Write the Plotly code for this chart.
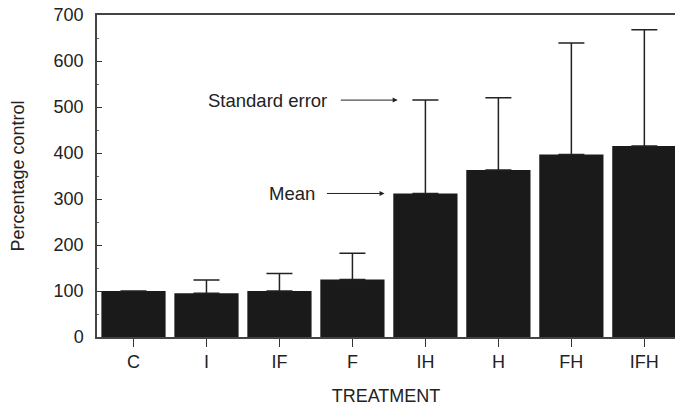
import plotly.graph_objects as go

categories = ["C", "I", "IF", "F", "IH", "H", "FH", "IFH"]
means = [100, 95, 100, 125, 312, 363, 397, 415]
se_plus = [0, 29, 38, 57, 203, 157, 242, 253]
y_ticks = [0, 100, 200, 300, 400, 500, 600, 700]

FONT = "Liberation Sans, Arial, Helvetica, sans-serif"

fig = go.Figure()
fig.add_trace(go.Bar(
    x=list(range(len(categories))),
    y=means,
    width=0.88,
    marker=dict(color="#1a1a1a", line=dict(width=0)),
    error_y=dict(type="data", array=se_plus, arrayminus=[0] * len(se_plus),
                 symmetric=False, color="#222222", thickness=1.5, width=13),
    showlegend=False,
))

# annotations (arrows + labels)
fig.add_annotation(x=3.62, y=515, ax=2.82, ay=515, axref="x", ayref="y",
                   xref="x", yref="y", text="", showarrow=True,
                   arrowhead=2, arrowsize=1, arrowwidth=1, arrowcolor="#222")
fig.add_annotation(x=3.44, y=312, ax=2.63, ay=312, axref="x", ayref="y",
                   xref="x", yref="y", text="", showarrow=True,
                   arrowhead=2, arrowsize=1, arrowwidth=1, arrowcolor="#222")
fig.add_annotation(x=2.68, y=515, xref="x", yref="y", text="Standard error",
                   showarrow=False, xanchor="right", yanchor="middle",
                   font=dict(size=18.5, color="#222", family=FONT))
fig.add_annotation(x=2.52, y=312, xref="x", yref="y", text="Mean",
                   showarrow=False, xanchor="right", yanchor="middle",
                   font=dict(size=18.5, color="#222", family=FONT))

fig.update_layout(
    width=675, height=406,
    margin=dict(l=97, r=0, t=15, b=69),
    plot_bgcolor="white", paper_bgcolor="white",
    font=dict(family=FONT, color="#222", size=18),
    bargap=0.12,
)
fig.update_xaxes(
    range=[-0.5, 7.42],
    tickmode="array", tickvals=list(range(len(categories))), ticktext=categories,
    ticks="outside", ticklen=8, tickcolor="#333", tickwidth=1.2,
    showline=True, linecolor="#444", linewidth=1.5, mirror=True,
    showgrid=False, zeroline=False,
    tickfont=dict(size=18),
    title=dict(text="TREATMENT", font=dict(size=18), standoff=20),
)
fig.update_yaxes(
    range=[0, 700],
    tickmode="array", tickvals=y_ticks,
    ticks="inside", ticklen=5, tickcolor="#333", tickwidth=1.2,
    minor=dict(tickmode="linear", dtick=50, ticks="inside", ticklen=2, tickcolor="#666"),
    showline=True, linecolor="#444", linewidth=1.5, mirror=False,
    showgrid=False, zeroline=False,
    tickfont=dict(size=18),
    ticklabelstandoff=8,
    title=dict(text="Percentage control", font=dict(size=18), standoff=24),
)

fig.write_html("out.html", config={"displayModeBar": False},
               post_script="document.body.style.margin='0';document.body.style.overflow='hidden';")
